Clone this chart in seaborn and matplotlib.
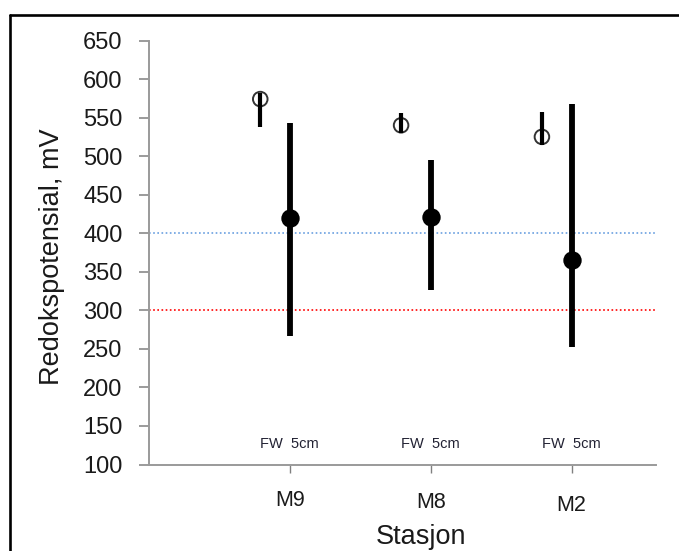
import matplotlib
matplotlib.use("Agg")
import matplotlib.pyplot as plt
from matplotlib.lines import Line2D
import seaborn as sns
import pandas as pd
import numpy as np

# ---- data ----
stations = ["M9", "M8", "M2"]
fw_mean = [574, 540, 525]
fw_low = [538, 530, 514]
fw_high = [582, 556, 557]
cm5_mean = [420, 421, 365]
cm5_low = [267, 326, 252]
cm5_high = [543, 495, 568]
ref_blue = 400
ref_red = 300
sub_label = "FW  5cm"
yticks = [100, 150, 200, 250, 300, 350, 400, 450, 500, 550, 600, 650]

sns.set_theme(style="white")
plt.rcParams["font.family"] = ["Liberation Sans", "DejaVu Sans"]

W, H = 679, 551
fig = plt.figure(figsize=(W / 100, H / 100), dpi=100)
ax = fig.add_axes([149 / W, 1 - 464.5 / H, (656 - 149) / W, (464.5 - 40.5) / H])

pos = np.arange(1, len(stations) + 1)
fw_off = -0.21

df_fw = pd.DataFrame({"x": pos + fw_off, "y": fw_mean})
df_5 = pd.DataFrame({"x": pos, "y": cm5_mean})

# reference lines
ax.axhline(ref_blue, color="#6a9fe0", lw=1.2, ls=(0, (1, 1.5)), zorder=1)
ax.axhline(ref_red, color="#ff0000", lw=1.2, ls=(0, (1, 1.5)), zorder=1)

# FW: open circles with thin bars
sns.scatterplot(data=df_fw, x="x", y="y", ax=ax, s=110, marker="o",
                facecolor="none", edgecolor="#333333", linewidth=1.4, zorder=3)
ax.vlines(df_fw["x"], fw_low, fw_high, color="black", lw=3.0, zorder=4)

# 5cm: filled circles with thick bars
ax.vlines(df_5["x"], cm5_low, cm5_high, color="black", lw=4.2, zorder=3)
sns.scatterplot(data=df_5, x="x", y="y", ax=ax, s=175, marker="o",
                color="black", edgecolor="black", linewidth=0, zorder=4)

for p in pos:
    ax.text(p, 126, sub_label, ha="center", va="center", fontsize=10.5,
            color="#222233")

ax.set_xlim(0, 3.6)
ax.set_ylim(100, 650)
ax.set_yticks(yticks)
ax.set_xticks(pos)
ax.set_xticklabels(stations)

for s in ["top", "right"]:
    ax.spines[s].set_visible(False)
for s in ["left", "bottom"]:
    ax.spines[s].set_color("#9a9a9a")
    ax.spines[s].set_linewidth(1.4)

ax.tick_params(axis="y", which="major", direction="out", length=7, width=1.1,
               color="#808080", pad=12, labelsize=17, labelcolor="#1a1a1a", left=True)
ax.tick_params(axis="x", which="major", direction="out", length=5.5, width=1.0,
               color="#808080", labelsize=15.5, labelcolor="#1a1a1a", bottom=True)
for t, pd_ in zip(ax.xaxis.get_major_ticks(), [13, 14.5, 16.5]):
    t.set_pad(pd_)

ax.set_xlabel("Stasjon", fontsize=19.5, color="#1a1a1a")
ax.set_ylabel("Redokspotensial, mV", fontsize=19.5, color="#1a1a1a")
ax.xaxis.set_label_coords((421 - 149) / 507, -0.14)
ax.yaxis.set_label_coords(-0.165, 0.49)
ax.grid(False)

# figure border (top and left visible)
fig.add_artist(Line2D([9.5 / W, 1.0], [1 - 15 / H, 1 - 15 / H], color="black", lw=1.9,
                      transform=fig.transFigure))
fig.add_artist(Line2D([9.5 / W, 9.5 / W], [0.0, 1 - 15 / H], color="black", lw=1.9,
                      transform=fig.transFigure))

fig.savefig("out.png", dpi=100)
